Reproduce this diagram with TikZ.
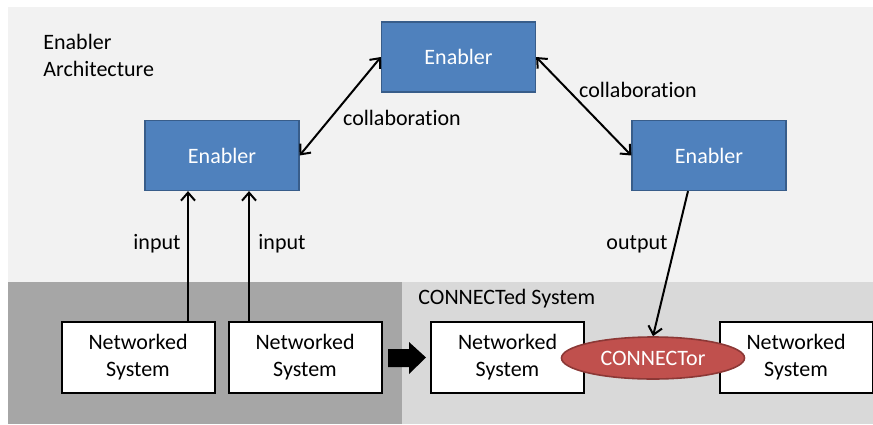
\documentclass[tikz,border=0pt]{standalone}
\usepackage{fontspec}
\setmainfont{Carlito}[Ligatures={NoCommon,NoRare,NoContextual}]
\usetikzlibrary{arrows.meta,shapes.geometric}
\definecolor{bgtop}{HTML}{F2F2F2}
\definecolor{bgdark}{HTML}{A6A6A6}
\definecolor{bglight}{HTML}{D9D9D9}
\definecolor{enfill}{HTML}{4F81BD}
\definecolor{endraw}{HTML}{385D8A}
\definecolor{cofill}{HTML}{C0504D}
\definecolor{codraw}{HTML}{8C3836}
\tikzset{
  enabler/.style={draw=endraw, line width=0.6pt, fill=enfill, text=white, minimum width=77pt, minimum height=35pt, inner sep=0pt, font=\fontsize{11}{13.5}\selectfont},
  nsbox/.style={draw=black, line width=1pt, fill=white, minimum width=76.5pt, minimum height=35.5pt, inner sep=0pt, align=center, font=\fontsize{11}{13.5}\selectfont},
  lbl/.style={inner sep=0pt, font=\fontsize{11}{13.5}\selectfont},
  arr/.style={line width=1pt, -{Straight Barb[length=4pt,width=7pt]}},
  darr/.style={line width=1pt, {Straight Barb[length=4pt,width=7pt]}-{Straight Barb[length=4pt,width=7pt]}},
}
\begin{document}
\begin{tikzpicture}[x=0.5pt,y=-0.5pt]
\useasboundingbox (0,0) rectangle (873,424);
% backgrounds
\fill[bgtop] (8,7) rectangle (873,282);
\fill[bgdark] (8,282) rectangle (402,424);
\fill[bglight] (402,282) rectangle (873,424);
% labels
\node[lbl, anchor=west, align=left] (title) at (43,55.5) {Enabler\\Architecture};
\node[lbl, anchor=west] (cs) at (418,299) {CONNECTed System};
% enablers
\node[enabler] (te) at (458.5,57) {Enabler};
\node[enabler] (le) at (222,155.5) {Enabler};
\node[enabler] (re) at (709,155.5) {Enabler};
% networked systems
\node[nsbox] (ns1) at (138,357.5) {Networked\\System};
\node[nsbox] (ns2) at (305,357.5) {Networked\\System};
\node[nsbox] (ns3) at (507.5,357.5) {Networked\\System};
\node[nsbox] (ns4) at (796,357.5) {Networked\\System};
% connector
\node[ellipse, draw=codraw, line width=0.8pt, fill=cofill, text=white, minimum width=91.5pt, minimum height=21pt, inner sep=0pt, font=\fontsize{11}{13.5}\selectfont] (con) at (653,358) {CONNECTor};
% collaboration arrows
\draw[darr] (le.east) -- (te.west);
\draw[darr] (te.east) -- (re.west);
\node[lbl] (c1) at (402,118) {collaboration};
\node[lbl] (c2) at (638,90) {collaboration};
% inputs
\draw[arr] ([xshift=25pt]ns1.north) -- ([xshift=25pt]ns1.north |- le.south);
\draw[arr] ([xshift=-28pt]ns2.north) -- ([xshift=-28pt]ns2.north |- le.south);
\node[lbl] (i1) at (157,244) {input};
\node[lbl] (i2) at (282,244) {input};
% output
\draw[arr] ([xshift=-10.5pt]re.south) -- (con.north);
\node[lbl] (o1) at (637,244) {output};
% big arrow
\fill[black] (388,349) -- (409,349) -- (409,342) -- (426,357.5) -- (409,374) -- (409,367) -- (388,367) -- cycle;
\end{tikzpicture}
\end{document}
